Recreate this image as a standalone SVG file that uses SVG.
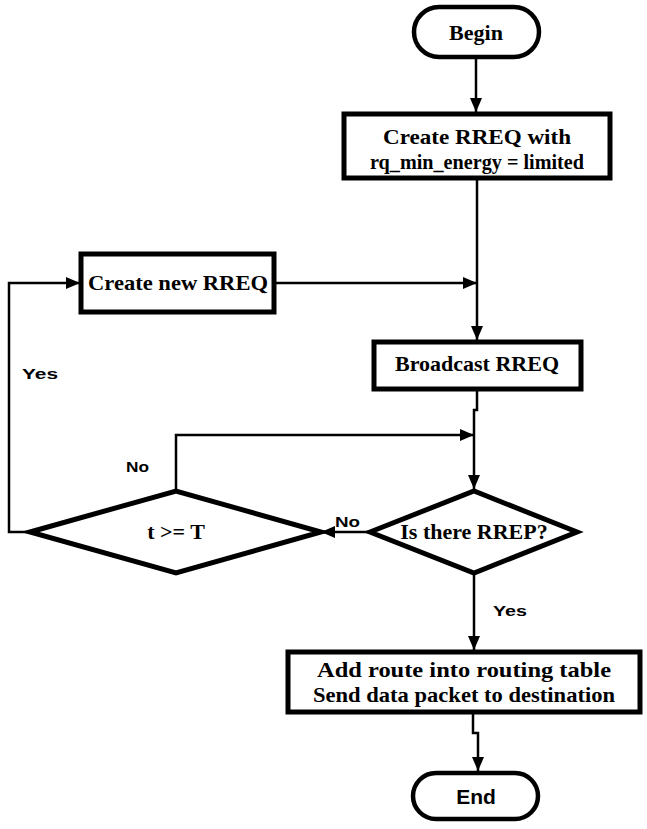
<svg xmlns="http://www.w3.org/2000/svg" width="647" height="829" viewBox="0 0 647 829">
  <defs>
    <marker id="arrow" viewBox="0 0 14 12" refX="14" refY="6" markerWidth="14" markerHeight="12" markerUnits="userSpaceOnUse" orient="auto">
      <path d="M0,0 L14,6 L0,12 Z" fill="#000"/>
    </marker>
    <style>
      .box { fill: #fff; stroke: #000; stroke-width: 5; }
      .term { fill: #fff; stroke: #000; stroke-width: 4.5; }
      .dec { fill: #fff; stroke: #000; stroke-width: 5; stroke-linejoin: miter; }
      .wire { fill: none; stroke: #000; stroke-width: 2.5; }
      .serif { font-family: "Liberation Serif", "Times New Roman", serif; font-weight: bold; font-size: 22px; fill: #000; text-anchor: middle; }
      .sans { font-family: "Liberation Sans", Arial, sans-serif; font-weight: bold; font-size: 15px; fill: #000; }
      .sansbig { font-family: "Liberation Sans", Arial, sans-serif; font-weight: bold; font-size: 21px; fill: #000; text-anchor: middle; }
    </style>
  </defs>

  <!-- connectors -->
  <g id="connectors">
    <line class="wire" x1="476" y1="57" x2="476" y2="112" marker-end="url(#arrow)"/>
    <line class="wire" x1="477" y1="178" x2="477" y2="340" marker-end="url(#arrow)"/>
    <line class="wire" x1="274" y1="283" x2="477" y2="283" marker-end="url(#arrow)"/>
    <polyline class="wire" points="477,389 477,410 474,410 474,489" marker-end="url(#arrow)"/>
    <polyline class="wire" points="176,491 176,435 474,435" marker-end="url(#arrow)"/>
    <line class="wire" x1="370" y1="532" x2="321" y2="532" marker-end="url(#arrow)"/>
    <polyline class="wire" points="30,532 9,532 9,283 80,283" marker-end="url(#arrow)"/>
    <line class="wire" x1="474" y1="573" x2="474" y2="650" marker-end="url(#arrow)"/>
    <polyline class="wire" points="473,712 473,733 478,733 478,771" marker-end="url(#arrow)"/>
    <text class="sans" x="22" y="379" textLength="36" lengthAdjust="spacingAndGlyphs">Yes</text>
    <text class="sans" x="126" y="472" textLength="23" lengthAdjust="spacingAndGlyphs">No</text>
    <text class="sans" x="335" y="527" textLength="25" lengthAdjust="spacingAndGlyphs">No</text>
    <text class="sans" x="493" y="616" textLength="34" lengthAdjust="spacingAndGlyphs">Yes</text>
  </g>

  <g id="begin">
    <rect class="term" x="414" y="7" width="125" height="50" rx="25" ry="25"/>
    <text class="serif" x="476" y="40">Begin</text>
  </g>

  <g id="create-rreq">
    <rect class="box" x="344" y="114" width="266" height="64"/>
    <text class="serif" x="477" y="144" textLength="188" lengthAdjust="spacingAndGlyphs">Create RREQ with</text>
    <text class="serif" x="477" y="169" textLength="214" lengthAdjust="spacingAndGlyphs">rq_min_energy = limited</text>
  </g>

  <g id="create-new-rreq">
    <rect class="box" x="81" y="254" width="193" height="58"/>
    <text class="serif" x="178" y="290" textLength="180" lengthAdjust="spacingAndGlyphs">Create new RREQ</text>
  </g>

  <g id="broadcast">
    <rect class="box" x="374" y="342" width="207" height="47"/>
    <text class="serif" x="477" y="371">Broadcast RREQ</text>
  </g>

  <g id="timeout">
    <polygon class="dec" points="30,532 176,491 321,532 176,573"/>
    <text class="serif" x="176" y="539">t &gt;= T</text>
  </g>

  <g id="rrep-check">
    <polygon class="dec" points="370,532 474,491 577,532 474,573"/>
    <text class="serif" x="474" y="539">Is there RREP?</text>
  </g>

  <g id="add-route">
    <rect class="box" x="288" y="652" width="352" height="60"/>
    <text class="serif" x="464" y="677" textLength="294" lengthAdjust="spacingAndGlyphs">Add route into routing table</text>
    <text class="serif" x="464" y="702" textLength="302" lengthAdjust="spacingAndGlyphs">Send data packet to destination</text>
  </g>

  <g id="end">
    <rect class="term" x="413" y="773" width="125" height="46" rx="23" ry="23"/>
    <text class="sansbig" x="476" y="804">End</text>
  </g>
</svg>
